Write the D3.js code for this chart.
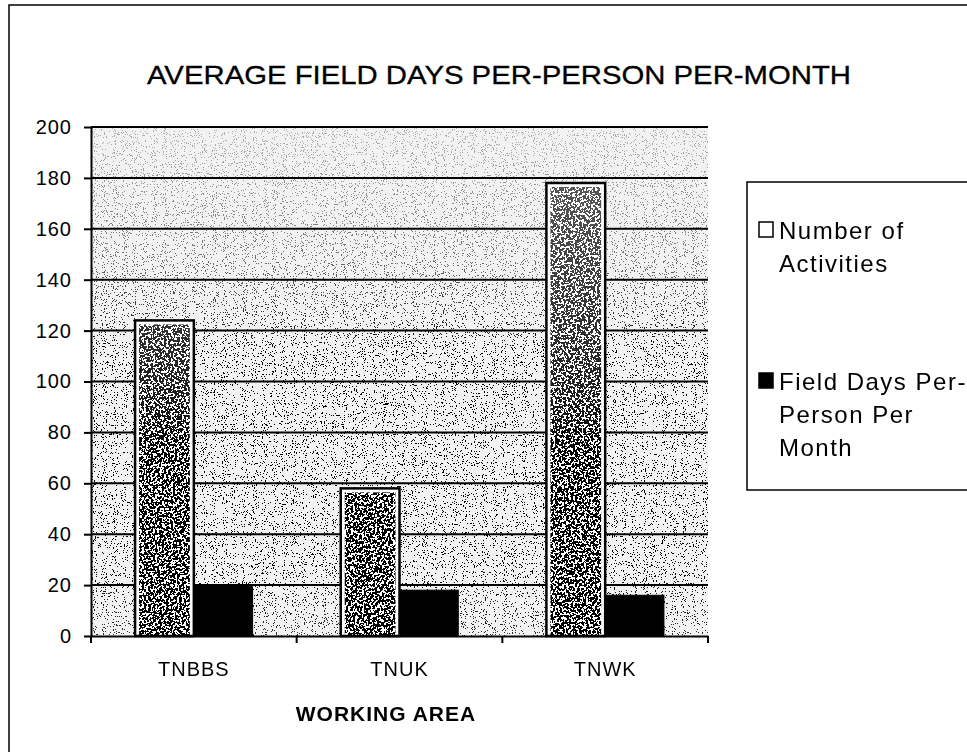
<!DOCTYPE html>
<html>
<head>
<meta charset="utf-8">
<script src="https://cdn.jsdelivr.net/npm/d3@7"></script>
<style>
  html, body { margin: 0; padding: 0; background: #fff; }
  svg { display: block; }
  text { font-family: Arial, "Liberation Sans", sans-serif; fill: #000; }
</style>
</head>
<body>
<svg id="chart" width="967" height="752"></svg>
<script>
const categories = ["TNBBS", "TNUK", "TNWK"];
const seriesNames = ["Number of Activities", "Field Days Per-Person Per Month"];
const activities = [124, 58, 178];
const fieldDays = [20, 18, 16];
const yTicks = [0, 20, 40, 60, 80, 100, 120, 140, 160, 180, 200];
const legendLines = [["Number of", "Activities"], ["Field Days Per-", "Person Per", "Month"]];
const titleText = "AVERAGE FIELD DAYS PER-PERSON PER-MONTH";
const xTitle = "WORKING AREA";

(function () {
const svg = d3.select("#chart");
const defs = svg.append("defs");

function speckle(id, scale, gain, offset, seed) {
  const f = defs.append("filter").attr("id", id)
    .attr("x", 0).attr("y", 0).attr("width", 1).attr("height", 1)
    .attr("filterUnits", "objectBoundingBox");
  f.append("feTurbulence").attr("type", "fractalNoise").attr("baseFrequency", scale)
    .attr("numOctaves", 2).attr("seed", seed).attr("result", "noise");
  f.append("feColorMatrix").attr("in", "noise").attr("type", "matrix")
    .attr("values", `0 0 0 0 0  0 0 0 0 0  0 0 0 0 0  ${gain} 0 0 0 ${offset}`).attr("result", "a");
  const ct = f.append("feComponentTransfer").attr("in", "a").attr("result", "dots");
  ct.append("feFuncA").attr("type", "discrete").attr("tableValues", "0 1");
  f.append("feComposite").attr("in", "dots").attr("in2", "SourceGraphic").attr("operator", "in");
}
speckle("bgSpeckle", 0.9, 6, -3.4, 4);
speckle("barSpeckle", 0.45, 4, -1.4, 9);

const pLeft = 91, pRight = 708, pTop = 127, pBottom = 636;
const y = d3.scaleLinear().domain([0, 200]).range([pBottom, pTop]);
const x0 = d3.scaleBand().domain(categories).range([pLeft, pRight]).paddingInner(0).paddingOuter(0);
const x1 = d3.scaleBand().domain(seriesNames).range([0, x0.bandwidth()]).paddingInner(0).paddingOuter(0.75);

// density masks (vertical variation of the speckle)
const g1 = defs.append("linearGradient").attr("id", "bgFade").attr("gradientUnits", "userSpaceOnUse")
  .attr("x1", 0).attr("x2", 0).attr("y1", pTop).attr("y2", pBottom);
[[0, "#444"], [0.25, "#888"], [0.45, "#fff"], [0.85, "#fff"], [1, "#ccc"]].forEach(([o, c]) =>
  g1.append("stop").attr("offset", o).attr("stop-color", c));
defs.append("mask").attr("id", "bgMask").attr("maskUnits", "userSpaceOnUse")
  .attr("x", 0).attr("y", 0).attr("width", 967).attr("height", 752)
  .append("rect").attr("x", pLeft).attr("y", pTop).attr("width", pRight - pLeft).attr("height", pBottom - pTop)
  .attr("fill", "url(#bgFade)");
const g2 = defs.append("linearGradient").attr("id", "barFade").attr("gradientUnits", "userSpaceOnUse")
  .attr("x1", 0).attr("x2", 0).attr("y1", pTop).attr("y2", pBottom);
[[0, "#999"], [0.5, "#ddd"], [0.65, "#fff"], [1, "#fff"]].forEach(([o, c]) =>
  g2.append("stop").attr("offset", o).attr("stop-color", c));
defs.append("mask").attr("id", "barMask").attr("maskUnits", "userSpaceOnUse")
  .attr("x", 0).attr("y", 0).attr("width", 967).attr("height", 752)
  .append("rect").attr("x", pLeft).attr("y", pTop).attr("width", pRight - pLeft).attr("height", pBottom - pTop)
  .attr("fill", "url(#barFade)");

// outer chart border
svg.append("path").attr("d", `M9,752 L9,5 L967,5`).attr("fill", "none").attr("stroke", "#000").attr("stroke-width", 1.5);

// title
svg.append("text").attr("x", 499).attr("y", 84).attr("text-anchor", "middle")
  .attr("font-size", 26).attr("textLength", 704).attr("lengthAdjust", "spacingAndGlyphs")
  .attr("stroke", "#000").attr("stroke-width", 0.3)
  .text(titleText);

// plot background
svg.append("rect").attr("x", pLeft).attr("y", pTop).attr("width", pRight - pLeft).attr("height", pBottom - pTop)
  .attr("fill", "#f2f2f2");
svg.append("g").attr("mask", "url(#bgMask)")
  .append("rect").attr("x", pLeft).attr("y", pTop).attr("width", pRight - pLeft).attr("height", pBottom - pTop)
  .attr("fill", "#555").attr("filter", "url(#bgSpeckle)");

// gridlines
svg.append("g").selectAll("line").data(yTicks.filter(d => d > 0)).join("line")
  .attr("x1", pLeft).attr("x2", pRight).attr("y1", d => y(d)).attr("y2", d => y(d))
  .attr("stroke", "#000").attr("stroke-width", 2);

// y axis
const yAxis = svg.append("g").attr("transform", `translate(${pLeft},0)`)
  .call(d3.axisLeft(y).tickValues(yTicks).tickSize(7).tickPadding(12).tickSizeOuter(0));
yAxis.select(".domain").attr("stroke-width", 2);
yAxis.selectAll(".tick line").attr("stroke-width", 2);
yAxis.selectAll("text").attr("font-size", 20).attr("letter-spacing", 1)
  .style("font-family", "Arial, 'Liberation Sans', sans-serif");

// bars
const groups = svg.append("g").selectAll("g").data(categories).join("g")
  .attr("transform", d => `translate(${x0(d)},0)`);

groups.append("rect")
  .attr("x", x1(seriesNames[0])).attr("width", x1.bandwidth())
  .attr("y", (d, i) => y(activities[i])).attr("height", (d, i) => y(0) - y(activities[i]))
  .attr("fill", "#fff").attr("stroke", "#000").attr("stroke-width", 2.5);
const barSpk = svg.append("g").attr("mask", "url(#barMask)");
barSpk.selectAll("rect").data(categories).join("rect")
  .attr("x", d => x0(d) + x1(seriesNames[0]) + 4).attr("width", x1.bandwidth() - 8)
  .attr("y", (d, i) => y(activities[i]) + 4).attr("height", (d, i) => y(0) - y(activities[i]) - 5)
  .attr("fill", "#1a1a1a").attr("filter", "url(#barSpeckle)");
groups.append("rect")
  .attr("x", x1(seriesNames[1])).attr("width", x1.bandwidth())
  .attr("y", (d, i) => y(fieldDays[i])).attr("height", (d, i) => y(0) - y(fieldDays[i]))
  .attr("fill", "#000").attr("stroke", "#000").attr("stroke-width", 1);

// x axis
const xAxis = svg.append("g").attr("transform", `translate(0,${pBottom})`)
  .call(d3.axisBottom(x0).tickSize(0).tickPadding(26));
xAxis.select(".domain").attr("stroke-width", 2);
xAxis.selectAll("text").attr("font-size", 20).attr("letter-spacing", 1)
  .style("font-family", "Arial, 'Liberation Sans', sans-serif");
const boundaries = categories.map(c => x0(c)).concat([x0(categories[categories.length - 1]) + x0.bandwidth()]);
svg.append("g").selectAll("line").data(boundaries).join("line")
  .attr("x1", d => d).attr("x2", d => d).attr("y1", pBottom).attr("y2", pBottom + 7)
  .attr("stroke", "#000").attr("stroke-width", 2);

// x title
svg.append("text").attr("x", 386).attr("y", 721).attr("text-anchor", "middle")
  .attr("font-size", 21).attr("font-weight", "bold").attr("letter-spacing", 1).text(xTitle);

// legend
const lg = svg.append("g");
lg.append("rect").attr("x", 747).attr("y", 182).attr("width", 240).attr("height", 308)
  .attr("fill", "#fff").attr("stroke", "#000").attr("stroke-width", 1.5);
const legendY = [230, 381];
lg.selectAll("rect.sw").data(seriesNames).join("rect").attr("class", "sw")
  .attr("x", 759).attr("y", (d, i) => legendY[i] - 8).attr("width", 14).attr("height", 15)
  .attr("fill", (d, i) => i === 0 ? "#fff" : "#000").attr("stroke", "#000").attr("stroke-width", 1.5);
lg.selectAll("text").data(seriesNames).join("text")
  .attr("x", 779).attr("y", (d, i) => legendY[i] + 9).attr("font-size", 24).attr("letter-spacing", 1.5)
  .each(function(d, i) {
    d3.select(this).selectAll("tspan").data(legendLines[i]).join("tspan")
      .attr("x", 779).attr("dy", (t, j) => j === 0 ? 0 : 33).text(t => t);
  });
})();
</script>
</body>
</html>
